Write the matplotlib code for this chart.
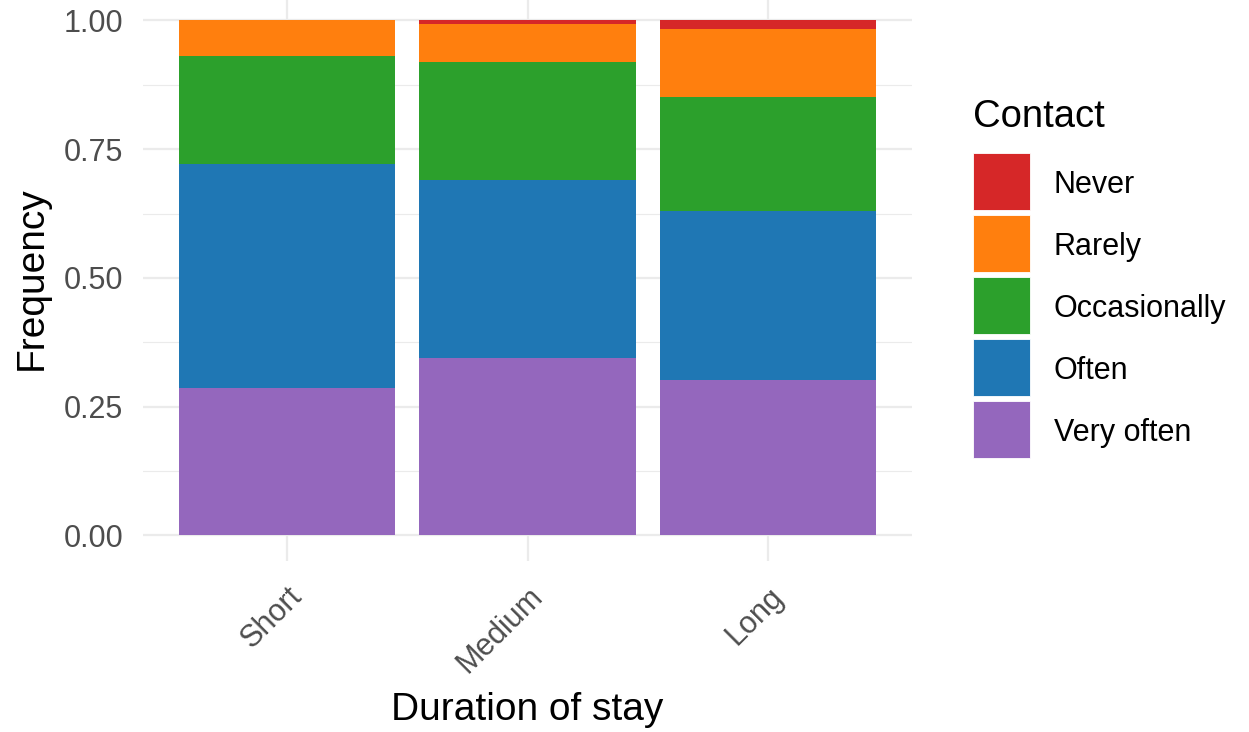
import matplotlib
matplotlib.use("Agg")
import matplotlib.pyplot as plt
import numpy as np
from matplotlib.patches import Rectangle

plt.rcParams['font.family'] = ['Liberation Sans', 'DejaVu Sans']

# ---- data ----
categories = ['Short', 'Medium', 'Long']
levels = ['Very often', 'Often', 'Occasionally', 'Rarely', 'Never']  # bottom -> top
very_often = [0.287, 0.344, 0.301]
often = [0.434, 0.347, 0.329]
occasionally = [0.210, 0.229, 0.222]
rarely = [0.069, 0.073, 0.132]
never = [0.000, 0.007, 0.016]
colors = {'Very often': '#9467bd', 'Often': '#1f77b4', 'Occasionally': '#2ca02c',
          'Rarely': '#ff7f0e', 'Never': '#d62728'}
yticks = [0.0, 0.25, 0.5, 0.75, 1.0]
ytick_labels = ['0.00', '0.25', '0.50', '0.75', '1.00']

W, H = 1249, 732
fig = plt.figure(figsize=(W / 100, H / 100), dpi=100)
ax = fig.add_axes([142.7 / W, (H - 561.25) / H, 769.6 / W, 566.7 / H])

series = {'Very often': very_often, 'Often': often, 'Occasionally': occasionally,
          'Rarely': rarely, 'Never': never}
x = np.arange(1, len(categories) + 1)
bottom = np.zeros(len(categories))
for lev in levels:
    vals = np.array(series[lev])
    ax.bar(x, vals, width=0.9, bottom=bottom, color=colors[lev], linewidth=0, zorder=3)
    bottom += vals

ax.set_xlim(0.4, 3.6)
ax.set_ylim(-0.05, 1.05)
ax.set_xticks(x)
ax.set_xticklabels(categories)
ax.set_yticks(yticks)
ax.set_yticklabels(ytick_labels)
ax.set_yticks([0.125, 0.375, 0.625, 0.875], minor=True)

for s in ax.spines.values():
    s.set_visible(False)
ax.grid(True, which='major', color='#EBEBEB', linewidth=1.6, zorder=0)
ax.grid(True, which='minor', axis='y', color='#EBEBEB', linewidth=0.8, zorder=0)
ax.set_axisbelow(True)
ax.tick_params(axis='both', which='both', length=0)
ax.tick_params(axis='y', labelsize=22, labelcolor='#4D4D4D', pad=14)
ax.tick_params(axis='x', labelsize=22, labelcolor='#4D4D4D', pad=14.6)

for lab in ax.get_xticklabels():
    lab.set_rotation(45)
    lab.set_rotation_mode('anchor')
    lab.set_ha('right')
    lab.set_va('top')

ax.set_xlabel('Duration of stay', fontsize=28, color='black')
ax.xaxis.set_label_coords(0.5, -(692 - 561.25) / 566.7)
ax.xaxis.label.set_va('top')
ax.set_ylabel('Frequency', fontsize=28, color='black')
ax.yaxis.set_label_coords((50 - 142.7) / 769.6, 0.5)

# ---- legend (ggplot style) ----
def fx(px):
    return px / W

def fy(py):
    return 1 - py / H

fig.text(fx(973), fy(127), 'Contact', fontsize=27.5, color='black', va='baseline', ha='left')
legend_order = ['Never', 'Rarely', 'Occasionally', 'Often', 'Very often']
for i, lev in enumerate(legend_order):
    top = 153.3 + i * 62
    fig.add_artist(Rectangle((fx(973), fy(top + 57)), 57 / W, 57 / H,
                             transform=fig.transFigure, facecolor=colors[lev],
                             edgecolor='white', linewidth=0.6))
    fig.text(fx(1053.5), fy(top + 28.5 + 11.1), lev, fontsize=22, color='black',
             va='baseline', ha='left')

fig.savefig('out.png', dpi=100, facecolor='white')
